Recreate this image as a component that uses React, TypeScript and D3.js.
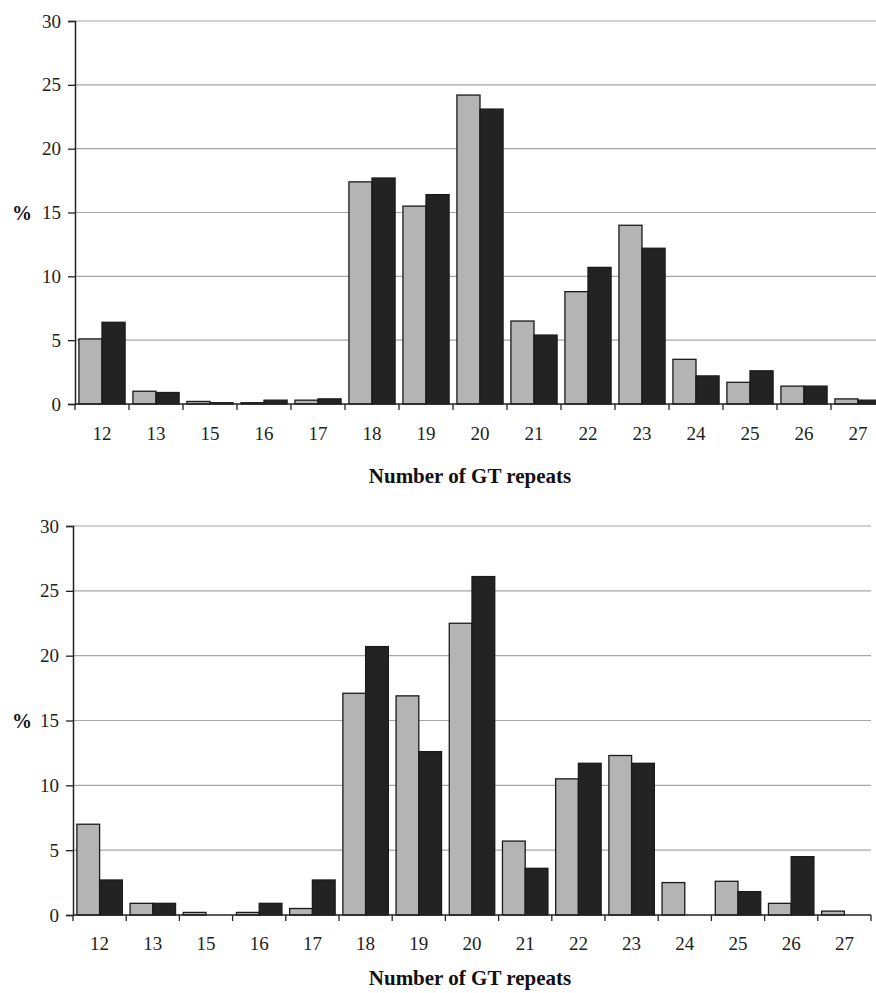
import { useEffect, useRef } from 'react';
import * as d3 from 'd3';

// GT repeat categories (14 is absent in the source)
const repeats = ['12', '13', '15', '16', '17', '18', '19', '20', '21', '22', '23', '24', '25', '26', '27'];
const yTicks = [0, 5, 10, 15, 20, 25, 30];

// top panel
const topGray = [5.1, 1.0, 0.2, 0.1, 0.3, 17.4, 15.5, 24.2, 6.5, 8.8, 14.0, 3.5, 1.7, 1.4, 0.4];
const topBlack = [6.4, 0.9, 0.1, 0.3, 0.4, 17.7, 16.4, 23.1, 5.4, 10.7, 12.2, 2.2, 2.6, 1.4, 0.3];

// bottom panel
const bottomGray = [7.0, 0.9, 0.2, 0.2, 0.5, 17.1, 16.9, 22.5, 5.7, 10.5, 12.3, 2.5, 2.6, 0.9, 0.3];
const bottomBlack = [2.7, 0.9, 0, 0.9, 2.7, 20.7, 12.6, 26.1, 3.6, 11.7, 11.7, 0, 1.8, 4.5, 0];

const FONT = '"Liberation Serif", "Times New Roman", serif';

type Panel = {
    gray: number[];
    black: number[];
    left: number;
    right: number;
    top: number;
    bottom: number;
    tickY: number;
    titleY: number;
};

const panels: Panel[] = [
    { gray: topGray, black: topBlack, left: 75, right: 885, top: 21, bottom: 404, tickY: 440, titleY: 483 },
    { gray: bottomGray, black: bottomBlack, left: 73, right: 871, top: 526, bottom: 915, tickY: 950, titleY: 985 },
];

const App = () => {
    const svgRef = useRef<SVGSVGElement | null>(null);
    const width = 876;
    const height = 993;

    useEffect(() => {
        const svg = d3.select(svgRef.current);
        svg.selectAll('*').remove();

        panels.forEach(p => {
            const g = svg.append('g');

            const x = d3.scaleBand().domain(repeats).range([p.left, p.right]).padding(0);
            const x1 = d3.scaleBand().domain(['gray', 'black']).range([0, x.bandwidth()]).paddingInner(0).paddingOuter(0.17);
            const y = d3.scaleLinear().domain([0, 30]).range([p.bottom, p.top]);

            // gridlines
            g.append('g')
                .selectAll('line')
                .data(yTicks.slice(1))
                .join('line')
                .attr('x1', p.left)
                .attr('x2', p.right)
                .attr('y1', d => y(d))
                .attr('y2', d => y(d))
                .attr('stroke', '#a6a6a6')
                .attr('stroke-width', 1.2);

            const rows = repeats.map((r, i) => ({ r, gray: p.gray[i], black: p.black[i] }));

            const groups = g.append('g')
                .selectAll('g')
                .data(rows)
                .join('g')
                .attr('transform', d => 'translate(' + x(d.r) + ',0)');

            groups.selectAll('rect')
                .data(d => [
                    { key: 'gray', v: d.gray },
                    { key: 'black', v: d.black },
                ].filter(b => b.v > 0))
                .join('rect')
                .attr('x', d => x1(d.key)!)
                .attr('width', x1.bandwidth())
                .attr('y', d => y(d.v))
                .attr('height', d => p.bottom - y(d.v))
                .attr('fill', d => (d.key === 'gray' ? '#b4b4b4' : '#232323'))
                .attr('stroke', '#1a1a1a')
                .attr('stroke-width', 1.3);

            // y axis
            const yAxis = g.append('g')
                .attr('transform', 'translate(' + p.left + ',0)')
                .call(d3.axisLeft(y).tickValues(yTicks).tickSize(7).tickPadding(7));
            yAxis.select('.domain').attr('stroke', '#222').attr('stroke-width', 1.5);
            yAxis.selectAll('.tick line').attr('stroke', '#222').attr('stroke-width', 1.3);
            yAxis.selectAll('.tick text')
                .attr('font-family', FONT)
                .attr('font-size', 19)
                .attr('fill', '#222');

            // x axis
            g.append('line')
                .attr('x1', p.left)
                .attr('x2', p.right)
                .attr('y1', p.bottom)
                .attr('y2', p.bottom)
                .attr('stroke', '#222')
                .attr('stroke-width', 1.5);

            const bounds = repeats.map(r => x(r)!).concat([p.right]);
            g.append('g')
                .selectAll('line')
                .data(bounds)
                .join('line')
                .attr('x1', d => d)
                .attr('x2', d => d)
                .attr('y1', p.bottom)
                .attr('y2', p.bottom + 6)
                .attr('stroke', '#222')
                .attr('stroke-width', 1.3);

            g.append('g')
                .selectAll('text')
                .data(repeats)
                .join('text')
                .attr('x', d => x(d)! + x.bandwidth() / 2)
                .attr('y', p.tickY)
                .attr('text-anchor', 'middle')
                .attr('font-family', FONT)
                .attr('font-size', 19)
                .attr('fill', '#222')
                .text(d => d);

            g.append('text')
                .text('%')
                .attr('x', 22)
                .attr('y', (p.top + p.bottom) / 2 + 7)
                .attr('text-anchor', 'middle')
                .attr('font-family', FONT)
                .attr('font-weight', 'bold')
                .attr('font-size', 20)
                .attr('fill', '#111');

            g.append('text')
                .text('Number of GT repeats')
                .attr('x', 470)
                .attr('y', p.titleY)
                .attr('text-anchor', 'middle')
                .attr('font-family', FONT)
                .attr('font-weight', 'bold')
                .attr('font-size', 21)
                .attr('fill', '#111');
        });
    }, []);

    return (
        <div>
            <svg ref={svgRef} width={width} height={height} style={{ position: 'absolute', left: 0, top: 0, background: '#fff' }}></svg>
        </div>
    );
};

export default App;
